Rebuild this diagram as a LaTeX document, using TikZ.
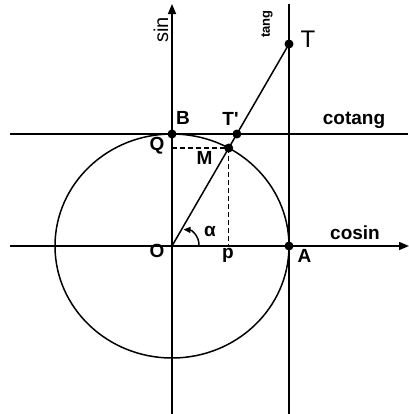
\documentclass[tikz,border=0pt]{standalone}
\usepackage{fontspec}
\setmainfont{Liberation Sans}
\usetikzlibrary{arrows.meta}
\newcommand{\straightquote}{\XeTeXglyph\XeTeXcharglyph"27\relax}
\begin{document}
\begin{tikzpicture}[x=1bp,y=-1bp,
  axis/.style={line width=1.5bp},
  guide/.style={line width=1.2bp, dash pattern=on 5bp off 3bp},
  dot/.style={circle, fill=black, inner sep=0pt, minimum size=9bp},
  lbl/.style={inner sep=0pt, font=\fontsize{19bp}{22bp}\selectfont\bfseries},
  arr/.style={-{Triangle[length=10bp,width=8bp]}},
  smallarr/.style={-{Triangle[length=7bp,width=6bp]}}]
\useasboundingbox (0,0) rectangle (409,414);
% key points
\coordinate (O) at (172,246);
\coordinate (xl) at (10,246);
\coordinate (xr) at (409,246);
\coordinate (yb) at (172,414);
\coordinate (yt) at (172,4);
\coordinate (tb) at (289,414);
\coordinate (tt) at (289,4);
\coordinate (cl) at (10,134);
\coordinate (cr) at (408,134);
\coordinate (Q) at (172,148);
\coordinate (P) at (228.7,246);
\coordinate (a1) at (199,245);
\coordinate (a2) at (183.5,229.5);
% circle
\draw[axis] (O) ellipse [x radius=117, y radius=112];
% axes and tangent lines
\draw[axis,arr] (xl) -- (xr);
\draw[axis,arr] (yb) -- (yt);
\draw[axis] (tb) -- (tt);
\draw[axis] (cl) -- (cr);
% dots
\node[dot] (B) at (172,134) {};
\node[dot] (Tp) at (236.9,134) {};
\node[dot] (M) at (228.7,148) {};
\node[dot] (T) at (289,44) {};
\node[dot] (A) at (289,246) {};
% radius line
\draw[axis] (O) -- (T.center);
% projections
\draw[guide] (Q) -- (M.center);
\draw[guide] (M.center) -- (P);
% angle arrow
\draw[axis,smallarr] (a1) .. controls (199,236) and (192,230) .. (a2);
% labels
\node[lbl] (lB) at (183,118) {B};
\node[lbl] (lTp) at (230.5,118.5) {T\straightquote};
\node[lbl] (lQ) at (157,146) {Q};
\node[lbl] (lM) at (204.5,157.5) {M};
\node[lbl] (lO) at (157,251) {O};
\node[lbl] (lp) at (228,255) {p};
\node[lbl] (lA) at (304.5,255.5) {A};
\node[lbl] (lal) at (210,231) {α};
\node[lbl] (lcos) at (355,232.5) {cosin};
\node[lbl] (lcot) at (354,120) {cotang};
\node[inner sep=0pt, rotate=90, font=\fontsize{20bp}{22bp}\selectfont] (lsin) at (161,30) {sin};
\node[inner sep=0pt, rotate=90, font=\fontsize{13bp}{15bp}\selectfont\bfseries] (ltang) at (267,24) {tang};
\node[inner sep=0pt, font=\fontsize{24bp}{26bp}\selectfont] (lT) at (308,39) {T};
\end{tikzpicture}
\end{document}
